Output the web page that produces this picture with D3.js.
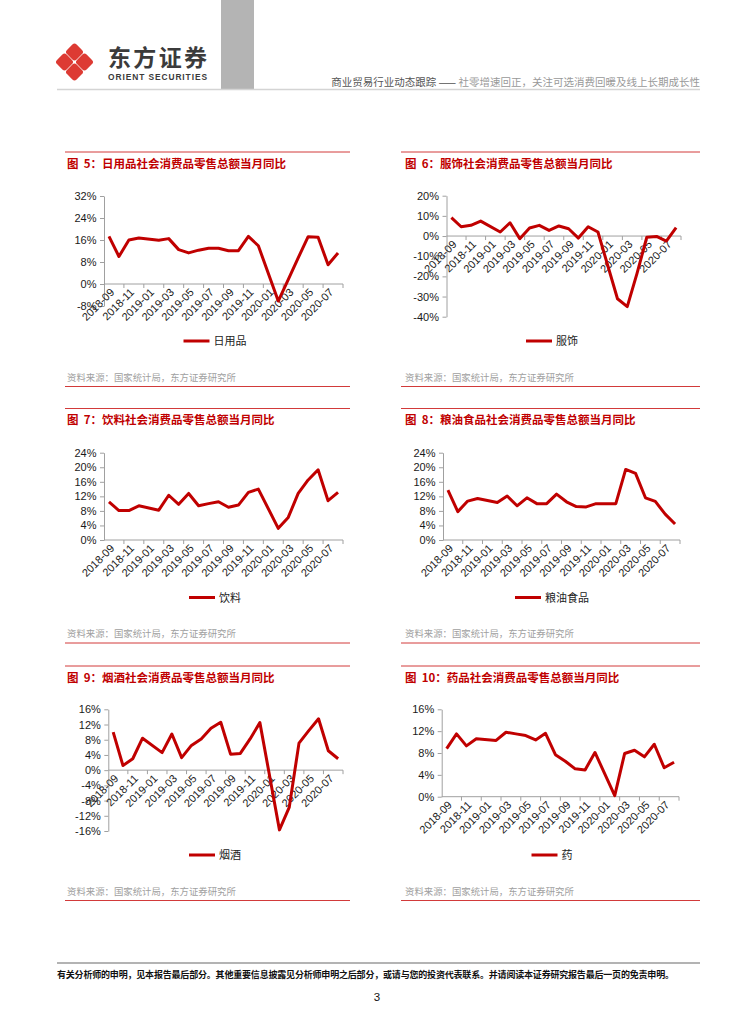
<!DOCTYPE html>
<html>
<head>
<meta charset="utf-8">
<script src="https://cdn.jsdelivr.net/npm/d3@7/dist/d3.min.js"></script>
<style>
  body { margin: 0; background: #fff; }
  svg { display: block; }
</style>
</head>
<body>
<div id="page"></div>
<script>
// categories: monthly, 2018-09 .. 2020-08 (Jan values are merged into Feb, so they are empty)
const months = ["2018-09","2018-10","2018-11","2018-12","2019-01","2019-02","2019-03","2019-04",
  "2019-05","2019-06","2019-07","2019-08","2019-09","2019-10","2019-11","2019-12",
  "2020-01","2020-02","2020-03","2020-04","2020-05","2020-06","2020-07","2020-08"];

// YoY growth, %
const riyong   = [17.3, 10.0, 16.0, 16.7, null, 15.9, 16.5, 12.5, 11.3, 12.3, 13.0, 13.0, 12.1, 12.1, 17.3, 13.9, null, -6.2, 1.6, 9.5, 17.2, 17.0, 7.0, 11.3];
const fushi    = [9.1, 4.6, 5.3, 7.4, null, 2.0, 6.6, -1.3, 4.0, 5.3, 2.8, 5.0, 3.6, -1.0, 4.6, 2.0, null, -31.1, -35.0, -18.5, -0.6, -0.2, -2.5, 4.2];
const yinliao  = [10.5, 8.1, 8.1, 9.4, null, 8.2, 12.3, 9.8, 12.8, 9.4, 10.0, 10.5, 9.0, 9.6, 13.1, 14.0, null, 3.2, 6.2, 12.8, 16.5, 19.3, 10.8, 13.1];
const liangyou = [13.7, 7.8, 10.7, 11.4, null, 10.3, 12.1, 9.4, 11.6, 10.0, 10.0, 12.6, 10.5, 9.2, 9.1, 10.0, null, 10.0, 19.4, 18.3, 11.6, 10.6, 7.1, 4.4];
const yanjiu   = [10.0, 1.2, 3.0, 8.4, null, 4.6, 9.5, 3.3, 6.5, 8.2, 11.0, 12.6, 4.2, 4.4, 8.2, 12.5, null, -15.7, -9.8, 7.1, 10.4, 13.5, 5.1, 3.0];
const yao      = [8.8, 11.5, 9.3, 10.6, null, 10.3, 11.8, 11.5, 11.2, 10.4, 11.6, 7.7, 6.5, 5.1, 4.9, 8.1, null, 0.2, 7.9, 8.5, 7.3, 9.6, 5.3, 6.3];

// y tick labels
const ticks1 = [-8, 0, 8, 16, 24, 32];
const ticks2 = [-40, -30, -20, -10, 0, 10, 20];
const ticks3 = [0, 4, 8, 12, 16, 20, 24];
const ticks5 = [-16, -12, -8, -4, 0, 4, 8, 12, 16];
const ticks6 = [0, 4, 8, 12, 16];

const titles = ["图 5：日用品社会消费品零售总额当月同比", "图 6：服饰社会消费品零售总额当月同比",
  "图 7：饮料社会消费品零售总额当月同比", "图 8：粮油食品社会消费品零售总额当月同比",
  "图 9：烟酒社会消费品零售总额当月同比", "图 10：药品社会消费品零售总额当月同比"];
const names = ["日用品", "服饰", "饮料", "粮油食品", "烟酒", "药"];
const source = "资料来源：国家统计局，东方证券研究所";

const W = 754, H = 1024;
const red = "#c00000";
const cjk = "'Noto Sans CJK SC', sans-serif";
const latin = "'Liberation Sans', Arial, sans-serif";

const svg = d3.select("#page").append("svg").attr("width", W).attr("height", H);

// ---- header
const logo = svg.append("g").attr("transform", "translate(74.5,62)");
[[0, -10], [-10, 0], [10, 0], [0, 10]].forEach(([dx, dy]) => {
  logo.append("rect")
    .attr("x", -6.8).attr("y", -6.8).attr("width", 13.6).attr("height", 13.6)
    .attr("rx", 3).attr("fill", "#dd3a33")
    .attr("transform", `translate(${dx},${dy}) rotate(45)`);
});
svg.append("text").attr("x", 108).attr("y", 66)
  .attr("font-family", cjk).attr("font-weight", 700).attr("font-size", 23)
  .attr("textLength", 99).attr("fill", "#3b3b3b").text("东方证券");
svg.append("text").attr("x", 108).attr("y", 80)
  .attr("font-family", latin).attr("font-weight", 700).attr("font-size", 8.4)
  .attr("textLength", 99).attr("fill", "#3b3b3b").text("ORIENT SECURITIES");
svg.append("rect").attr("x", 221).attr("y", 0).attr("width", 33).attr("height", 89).attr("fill", "#b4b4b4");
svg.append("line").attr("x1", 57).attr("x2", 700).attr("y1", 89.5).attr("y2", 89.5)
  .attr("stroke", "#d4d4d4").attr("stroke-width", 1.5);
const sub = svg.append("text").attr("x", 700).attr("y", 86).attr("text-anchor", "end")
  .attr("font-family", cjk).attr("font-size", 10.5);
sub.append("tspan").attr("fill", "#555").text("商业贸易行业动态跟踪 —— ");
sub.append("tspan").attr("fill", "#999").text("社零增速回正，关注可选消费回暖及线上长期成长性");

// ---- charts
const charts = [
  { data: riyong,   ticks: ticks1, px: [65, 350],  top: 152,   xr: [104, 343],   yr: [306, 196],     lc: 215 },
  { data: fushi,    ticks: ticks2, px: [401, 700], top: 152,   xr: [446.5, 681], yr: [316.7, 195.7], lc: 552 },
  { data: yinliao,  ticks: ticks3, px: [65, 350],  top: 408.5, xr: [104, 343],   yr: [540, 452.7],   lc: 215 },
  { data: liangyou, ticks: ticks3, px: [401, 700], top: 408.5, xr: [443, 680],   yr: [540, 452.7],   lc: 552 },
  { data: yanjiu,   ticks: ticks5, px: [65, 350],  top: 666,   xr: [108.3, 343], yr: [831, 709.3],   lc: 215 },
  { data: yao,      ticks: ticks6, px: [401, 700], top: 666,   xr: [441.7, 679], yr: [796.7, 709.3], lc: 552 }
];

charts.forEach((c, ci) => {
  const g = svg.append("g");
  const tx = c.px[0] === 65 ? 67 : 405;

  g.append("line").attr("x1", c.px[0]).attr("x2", c.px[1]).attr("y1", c.top).attr("y2", c.top)
    .attr("stroke", "#d23a3a").attr("stroke-width", 1);
  g.append("text").attr("x", tx).attr("y", c.top + 15.5)
    .attr("font-family", cjk).attr("font-weight", 700).attr("font-size", 11.5)
    .attr("fill", red).attr("xml:space", "preserve").text(titles[ci].replace(" ", "  "));

  const x = d3.scaleBand().domain(months).range(c.xr);
  const cx = m => x(m) + x.bandwidth() / 2;
  const y = d3.scaleLinear().domain(d3.extent(c.ticks)).range(c.yr);
  const y0 = y(0);

  // y axis
  const ya = g.append("g").attr("transform", `translate(${c.xr[0]},0)`)
    .call(d3.axisLeft(y).tickValues(c.ticks).tickFormat(d => d + "%").tickSize(4).tickSizeOuter(0));
  ya.selectAll("path, line").attr("stroke", "#a0a0a0");
  ya.selectAll("text").attr("font-family", latin).attr("font-size", 11).attr("fill", "#1a1a1a").attr("x", -7.5);

  // x axis along 0%
  g.append("line").attr("x1", c.xr[0]).attr("x2", c.xr[1]).attr("y1", y0).attr("y2", y0)
    .attr("stroke", "#a0a0a0");
  const bounds = months.map(m => x(m)).concat([c.xr[1]]).filter((b, i) => i > 0 && i % 2 === 0);
  g.selectAll(".xt").data(bounds).join("line")
    .attr("x1", d => d).attr("x2", d => d).attr("y1", y0).attr("y2", y0 + 4)
    .attr("stroke", "#a0a0a0");
  g.selectAll(".xl").data(months.filter((m, i) => i % 2 === 0)).join("text")
    .attr("transform", d => `translate(${cx(d) + 6},${y0 + 9}) rotate(-45)`)
    .attr("text-anchor", "end")
    .attr("font-family", latin).attr("font-size", 11).attr("fill", "#1a1a1a")
    .text(d => d);

  // series line, empty months skipped and bridged
  const pts = months.map((m, i) => [m, c.data[i]]).filter(p => p[1] !== null);
  g.append("path").datum(pts)
    .attr("d", d3.line().x(p => cx(p[0])).y(p => y(p[1])))
    .attr("fill", "none").attr("stroke", red).attr("stroke-width", 3)
    .attr("stroke-linejoin", "round");

  // legend
  const ly = c.top + 189;
  const lg = g.append("g");
  const lt = lg.append("text").attr("y", ly + 4).attr("font-family", cjk).attr("font-size", 11)
    .attr("fill", "#222").text(names[ci]);
  const tw = lt.node().getComputedTextLength();
  const left = c.lc - (26 + 4 + tw) / 2;
  lg.append("line").attr("x1", left).attr("x2", left + 26).attr("y1", ly).attr("y2", ly)
    .attr("stroke", red).attr("stroke-width", 3);
  lt.attr("x", left + 30);

  // source + bottom rule
  g.append("text").attr("x", tx).attr("y", c.top + 228.5)
    .attr("font-family", cjk).attr("font-size", 9.4).attr("fill", "#a0a0a0").text(source);
  g.append("line").attr("x1", c.px[0]).attr("x2", c.px[1]).attr("y1", c.top + 234.5).attr("y2", c.top + 234.5)
    .attr("stroke", "#d23a3a").attr("stroke-width", 1);
});

// ---- footer
svg.append("line").attr("x1", 57).attr("x2", 700).attr("y1", 963).attr("y2", 963)
  .attr("stroke", "#9a9a9a").attr("stroke-width", 1.5);
svg.append("text").attr("x", 57).attr("y", 977.5)
  .attr("font-family", cjk).attr("font-weight", 700).attr("font-size", 9)
  .attr("textLength", 617).attr("fill", "#111")
  .text("有关分析师的申明，见本报告最后部分。其他重要信息披露见分析师申明之后部分，或请与您的投资代表联系。并请阅读本证券研究报告最后一页的免责申明。");
svg.append("text").attr("x", 377).attr("y", 1001).attr("text-anchor", "middle")
  .attr("font-family", latin).attr("font-size", 11.5).attr("fill", "#111").text("3");
</script>
</body>
</html>
